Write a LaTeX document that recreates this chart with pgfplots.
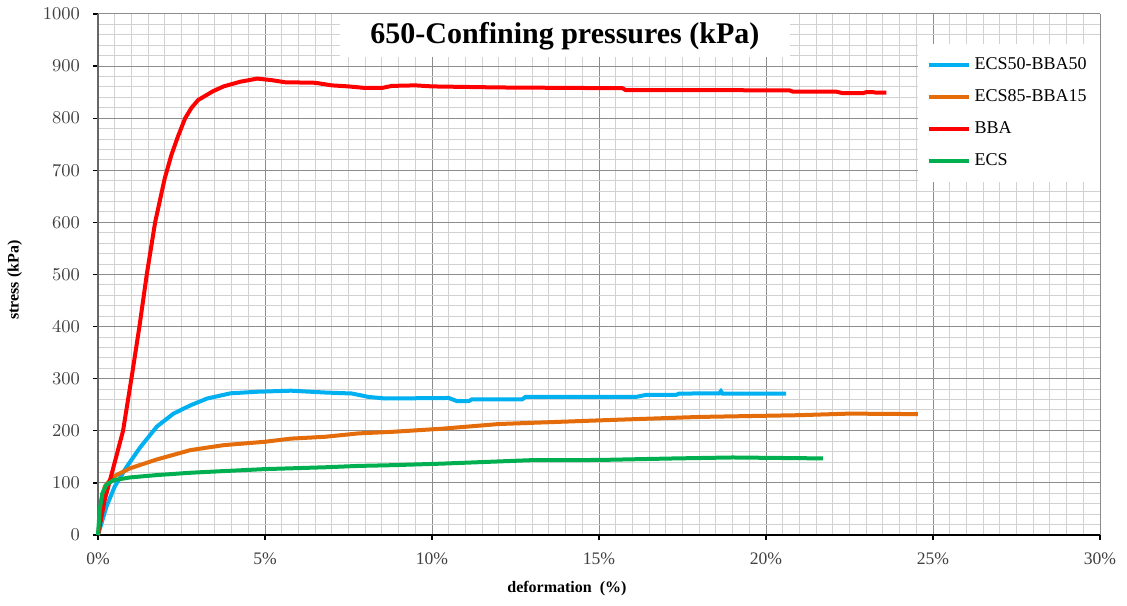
\documentclass[border=0pt]{standalone}
\usepackage{pgfplots}
\pgfplotsset{compat=1.18}
\usepackage{fontspec}
\setmainfont{Liberation Serif}
\definecolor{cblue}{HTML}{00B0F0}
\definecolor{corange}{HTML}{E46C0A}
\definecolor{cred}{HTML}{FF0000}
\definecolor{cgreen}{HTML}{00B050}
\definecolor{tickgray}{HTML}{404040}
\begin{document}
\begin{tikzpicture}
\begin{axis}[
  scale only axis,
  width=501pt, height=260.5pt,
  xmin=0, xmax=30, ymin=0, ymax=1000,
  xtick={0,5,10,15,20,25,30},
  xticklabels={0\%,5\%,10\%,15\%,20\%,25\%,30\%},
  ytick={0,100,...,1000},
  /pgf/number format/1000 sep={},
  minor x tick num=9,
  minor y tick num=4,
  grid=both,
  major grid style={draw=black!45, line width=0.5pt},
  minor grid style={draw=black!18, line width=0.5pt},
  axis lines=left,
  x axis line style={-, black, line width=1pt},
  y axis line style={-, black!60, line width=0.6pt},
  tick align=outside,
  major tick length=2.5pt,
  minor tick length=0pt,
  tick style={black, line width=0.6pt},
  ticklabel style={font=\fontsize{8.8}{10}\selectfont, text=tickgray},
  xticklabel style={yshift=-3pt},
  yticklabel style={xshift=-3pt},
  xlabel={\textbf{deformation\ \ (\%)}},
  ylabel={\textbf{stress (kPa)}},
  label style={font=\fontsize{8}{10}\selectfont},
  xlabel style={at={(axis description cs:0.468,-0.102)}, anchor=center},
  ylabel style={at={(axis description cs:-0.083,0.489)}, anchor=center},
  legend style={at={(axis cs:30,944)}, anchor=north east, draw=none, fill=white,
    font=\fontsize{9}{10}\selectfont, row sep=4.5pt, inner xsep=4.5pt, inner ysep=5pt},
  legend cell align=left,
  legend image code/.code={\draw[#1, line width=2pt] (0pt,0pt) -- (20pt,0pt);},
  clip=false,
]
\addplot[cblue, line width=2pt] coordinates {
(0,0) (0.25,54) (0.5,93) (0.86,131) (1.26,168) (1.76,208) (2.26,233) (2.77,249)
(3.27,262) (3.97,272) (4.78,275) (5.78,277) (6.79,273.5) (7.6,271.6) (8.1,265)
(8.6,262) (10.5,263) (10.75,257) (11.1,257) (11.2,260.5) (12.7,260.5) (12.8,265)
(16.1,265) (16.4,268.8) (17.3,268.8) (17.4,271.4) (18.6,272) (18.65,276) (18.7,271.4)
(20.6,271.4)};
\addlegendentry{ECS50-BBA50}
\addplot[corange, line width=2pt] coordinates {
(0,0) (0.1,54) (0.2,93) (0.35,105) (0.55,115) (0.96,128) (1.76,145) (2.77,163)
(3.77,172.5) (5,179) (5.78,185) (6.79,188.5) (7.8,195) (8.8,198) (10.3,204)
(12,213) (15,220) (18,226.6) (21,230) (22.5,233) (24.55,232)};
\addlegendentry{ECS85-BBA15}
\addplot[cred, line width=2pt] coordinates {
(0,0) (0.2,67) (0.4,115) (0.75,200) (1.0,300) (1.24,400) (1.46,500) (1.71,600)
(1.88,650) (2.0,685) (2.2,730) (2.4,766) (2.61,800) (2.8,820) (3.0,835) (3.45,852)
(3.76,861) (4.26,870) (4.77,876) (5.2,873) (5.6,869) (6.5,868) (7.0,863)
(7.5,861) (8.0,858) (8.5,858) (8.8,862) (9.5,863) (10.0,861) (12.0,859)
(15.7,857.5) (15.8,854) (20.7,853.5) (20.8,851) (22.1,851) (22.3,848) (22.9,848)
(23.0,850) (23.2,850) (23.3,849) (23.6,849)};
\addlegendentry{BBA}
\addplot[cgreen, line width=2pt] coordinates {
(0,0) (0.05,48) (0.13,80) (0.25,96) (0.45,105) (0.96,110.5) (1.76,115) (2.77,119.5)
(3.77,122.7) (5,126.5) (5.78,128) (6.8,130) (7.8,132.6) (8.8,134) (10.3,137)
(13,143.7) (15,144) (17.3,147) (19,148.8) (21.7,147)};
\addlegendentry{ECS}
\node[fill=white, inner sep=0pt, minimum width=225pt, minimum height=21.5pt,
  anchor=north, font=\bfseries\fontsize{15}{18}\selectfont]
  at (rel axis cs:0.466,1) {650-Confining pressures (kPa)};
\end{axis}
\pgfresetboundingbox
\path ([shift={(-49pt,-35pt)}]current axis.south west) rectangle ([shift={(13.5pt,7pt)}]current axis.north east);
\end{tikzpicture}
\end{document}
